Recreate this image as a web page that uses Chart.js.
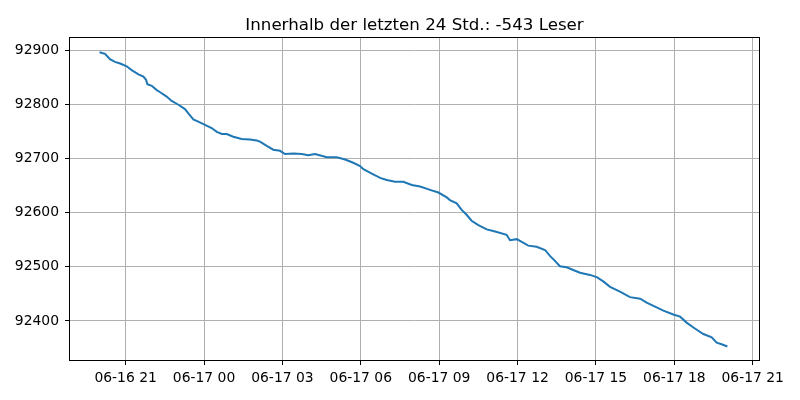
<!DOCTYPE html>
<html>
<head>
<meta charset="utf-8">
<script src="https://cdn.jsdelivr.net/npm/chart.js@4/dist/chart.umd.min.js"></script>
<style>
html,body{margin:0;padding:0;background:#fff;}
#wrap{width:800px;height:400px;}
</style>
</head>
<body>
<div id="wrap"><canvas id="c" width="800" height="400"></canvas></div>
<script>
// hours relative to 06-17 00:00
const hours = [-4.00,-3.79,-3.60,-3.41,-3.21,-2.96,-2.77,-2.51,-2.32,-2.22,-2.17,-2.00,-1.81,-1.68,-1.43,-1.24,-0.98,-0.73,-0.60,-0.41,-0.22,0.04,0.29,0.49,0.68,0.87,1.12,1.44,1.76,2.02,2.14,2.40,2.65,2.91,3.10,3.42,3.74,3.99,4.25,4.70,5.08,5.40,5.71,5.97,6.10,6.42,6.74,6.99,7.31,7.63,7.95,8.27,8.65,8.97,9.29,9.41,9.67,9.86,10.05,10.24,10.50,10.82,11.14,11.58,11.71,11.97,12.16,12.41,12.73,13.05,13.24,13.43,13.62,13.88,14.13,14.39,14.77,15.03,15.28,15.54,15.92,16.30,16.69,16.94,17.32,17.58,17.96,18.22,18.47,18.73,19.11,19.43,19.62,19.81,20.03];
const readers = [92896,92893,92883,92878,92875,92870,92863,92855,92851,92845,92837,92834,92826,92822,92814,92806,92799,92791,92783,92772,92768,92762,92756,92749,92745,92745,92740,92736,92735,92733,92731,92723,92716,92714,92708,92709,92708,92706,92708,92702,92702,92698,92692,92686,92680,92672,92664,92660,92657,92657,92651,92648,92642,92637,92628,92623,92617,92605,92596,92585,92577,92569,92565,92559,92549,92551,92546,92539,92537,92531,92520,92511,92501,92499,92494,92489,92485,92481,92473,92463,92454,92444,92441,92434,92425,92419,92412,92408,92397,92388,92376,92370,92360,92357,92353];
const xTickValues = [-3,0,3,6,9,12,15,18,21];
const xTickLabels = ["06-16 21","06-17 00","06-17 03","06-17 06","06-17 09","06-17 12","06-17 15","06-17 18","06-17 21"];
const yTickValues = [92400,92500,92600,92700,92800,92900];
const titleText = "Innerhalb der letzten 24 Std.: -543 Leser";

const points = hours.map((h,i)=>({x:h,y:readers[i]}));

const framePlugin = {
  id:'frame',
  afterDraw(chart){
    const a = chart.chartArea, ctx = chart.ctx;
    ctx.save();
    ctx.strokeStyle = '#000';
    ctx.lineWidth = 1;
    const l = Math.round(a.left)-0.5, r = Math.round(a.right)+0.5;
    const t = Math.round(a.top)+0.5, b = Math.round(a.bottom)+0.5;
    ctx.strokeRect(l, t, r-l, b-t);
    // title centred over the axes
    ctx.fillStyle = '#000';
    ctx.font = '16.67px "DejaVu Sans", sans-serif';
    ctx.textAlign = 'center';
    ctx.textBaseline = 'alphabetic';
    ctx.fillText(titleText, (a.left+a.right)/2, 30);
    ctx.restore();
  }
};

const font = {family:'"DejaVu Sans", sans-serif', size:13.9};

new Chart(document.getElementById('c'), {
  type:'line',
  data:{datasets:[{data:points,borderColor:'#1f77b4',borderWidth:2,pointRadius:0,tension:0,fill:false}]},
  options:{
    responsive:false,animation:false,
    layout:{padding:{left:0,right:41,top:37,bottom:0}},
    plugins:{legend:{display:false},tooltip:{enabled:false},title:{display:false}},
    scales:{
      x:{type:'linear',min:-5.13,max:21.24,
        afterBuildTicks(s){s.ticks = xTickValues.map(v=>({value:v}));},
        afterFit(s){s.height=40;},
        ticks:{color:'#000',font:font,padding:5,maxRotation:0,autoSkip:false,
          callback:(v)=>{const i=xTickValues.indexOf(v);return i>=0?xTickLabels[i]:'';}},
        grid:{color:'#b0b0b0',lineWidth:1,tickColor:'#000',tickLength:5},
        border:{display:false}
      },
      y:{type:'linear',min:92328,max:92924,
        afterBuildTicks(s){s.ticks = yTickValues.map(v=>({value:v}));},
        afterFit(s){s.width=70;},
        ticks:{color:'#000',font:font,padding:6,autoSkip:false,callback:(v)=>String(v)},
        grid:{color:'#b0b0b0',lineWidth:1,tickColor:'#000',tickLength:5},
        border:{display:false}
      }
    }
  },
  plugins:[framePlugin]
});
</script>
</body>
</html>
